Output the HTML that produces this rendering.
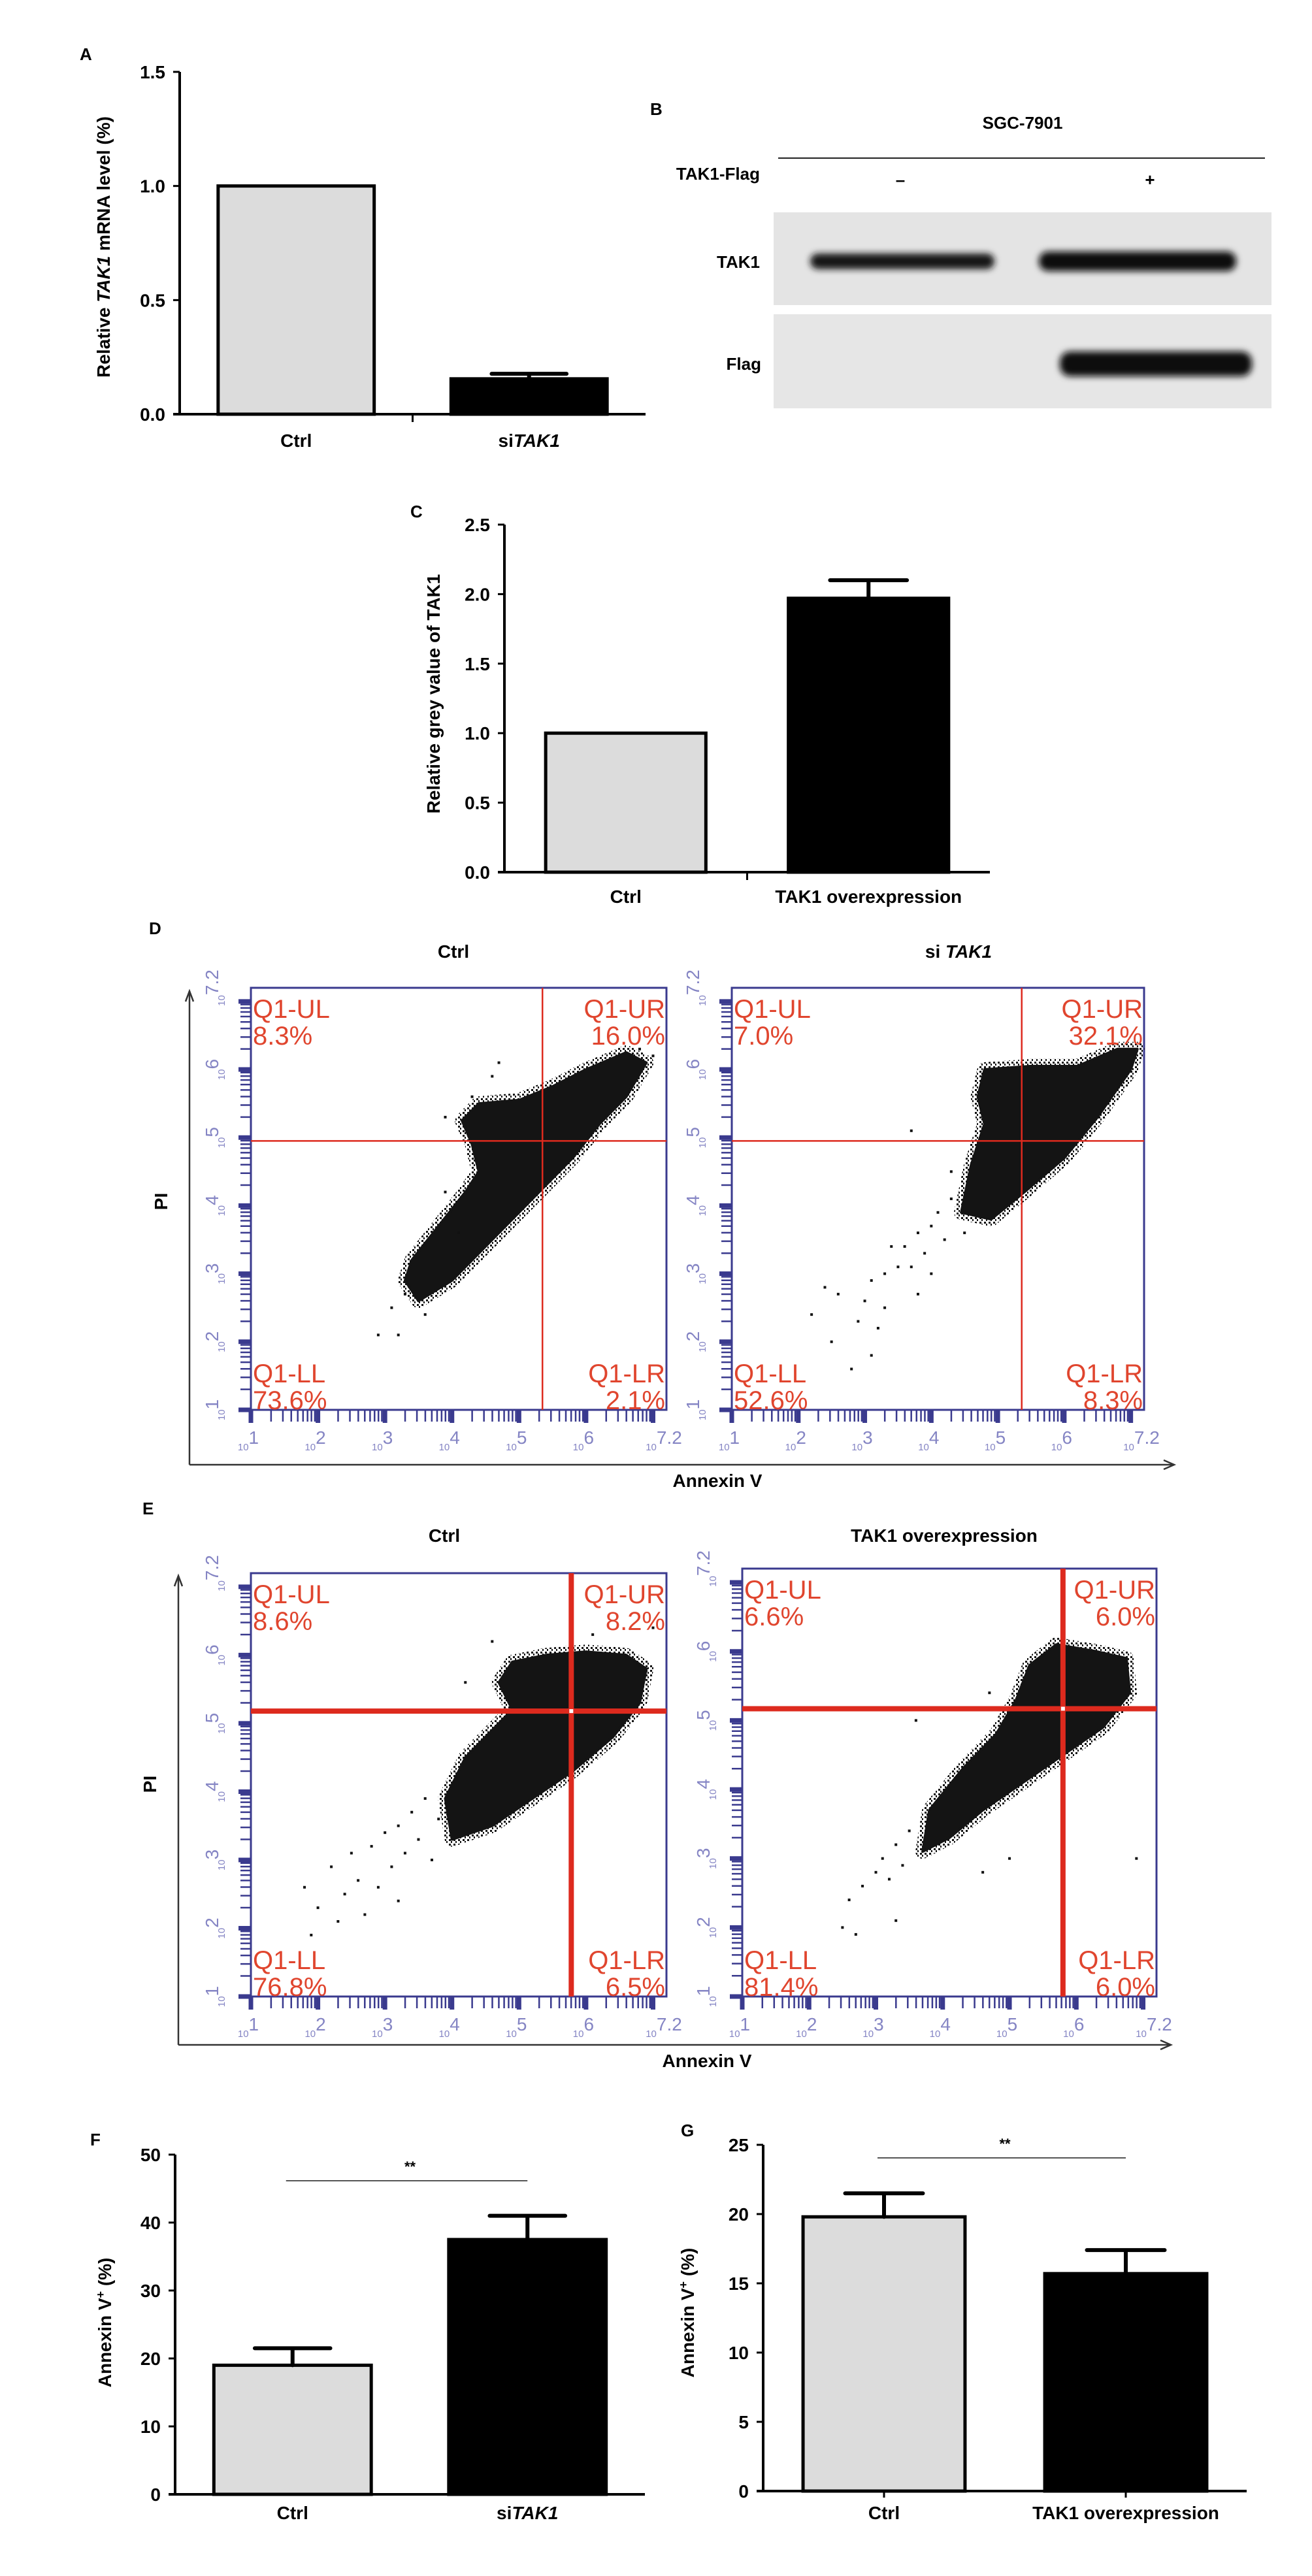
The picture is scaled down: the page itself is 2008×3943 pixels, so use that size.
<!DOCTYPE html>
<html><head><meta charset="utf-8"><style>
html,body{margin:0;padding:0;background:#fff}
svg{display:block}
text{font-family:"Liberation Sans",sans-serif}
.b{font-weight:bold}
</style></head><body>
<svg id="fig" xmlns="http://www.w3.org/2000/svg" width="2008" height="3943" viewBox="0 0 2008 3943">
<defs>
<filter id="blur" x="-20%" y="-50%" width="140%" height="200%"><feGaussianBlur stdDeviation="5"/></filter>
<pattern id="dots" width="7" height="7" patternUnits="userSpaceOnUse"><rect x="1" y="1" width="3" height="3" fill="#111"/><rect x="4" y="4" width="2" height="3" fill="#111"/></pattern>
</defs>
<g id="panelB">
<text x="995" y="176" class="b" font-size="26">B</text>
<text x="1565" y="197" class="b" font-size="26" text-anchor="middle">SGC-7901</text>
<line x1="1191" y1="242" x2="1936" y2="242" stroke="#222" stroke-width="2"/>
<text x="1163" y="275" class="b" font-size="26" text-anchor="end">TAK1-Flag</text>
<text x="1378" y="284" class="b" font-size="26" text-anchor="middle">–</text>
<text x="1760" y="284" class="b" font-size="26" text-anchor="middle">+</text>
<rect x="1184" y="325" width="762" height="142" fill="#e4e4e4"/>
<rect x="1184" y="481" width="762" height="144" fill="#e6e6e6"/>
<text x="1163" y="410" class="b" font-size="26" text-anchor="end">TAK1</text>
<text x="1165" y="566" class="b" font-size="26" text-anchor="end">Flag</text>
<rect x="1240" y="388" width="282" height="24" rx="12" fill="#151515" filter="url(#blur)"/>
<rect x="1590" y="385" width="302" height="30" rx="14" fill="#0a0a0a" filter="url(#blur)"/>
<rect x="1622" y="538" width="294" height="38" rx="16" fill="#0a0a0a" filter="url(#blur)"/>
</g>
</svg>
<script>
// ---------- bar chart data ----------
const aCats = ["Ctrl", "siTAK1"];
const aVals = [1.0, 0.155];
const aErr = [0.0, 0.177];
const aTicks = [0, 0.5, 1.0, 1.5];
const aTickLabels = ["0.0", "0.5", "1.0", "1.5"];

const cCats = ["Ctrl", "TAK1 overexpression"];
const cVals = [1.0, 1.97];
const cErr = [1.0, 2.1];
const cTicks = [0, 0.5, 1.0, 1.5, 2.0, 2.5];
const cTickLabels = ["0.0", "0.5", "1.0", "1.5", "2.0", "2.5"];

const fCats = ["Ctrl", "siTAK1"];
const fVals = [19, 37.5];
const fErr = [21.5, 41];
const fTicks = [0, 10, 20, 30, 40, 50];
const fTickLabels = ["0", "10", "20", "30", "40", "50"];

const gCats = ["Ctrl", "TAK1 overexpression"];
const gVals = [19.8, 15.7];
const gErr = [21.5, 17.4];
const gTicks = [0, 5, 10, 15, 20, 25];
const gTickLabels = ["0", "5", "10", "15", "20", "25"];

// ---------- flow cytometry data (log10 units) ----------
const dCtrlQuad = ["8.3%", "16.0%", "73.6%", "2.1%"];
const dSiQuad = ["7.0%", "32.1%", "52.6%", "8.3%"];
const eCtrlQuad = ["8.6%", "8.2%", "76.8%", "6.5%"];
const eOvQuad = ["6.6%", "6.0%", "81.4%", "6.0%"];
const dCtrlGate = [5.35, 4.95];
const dSiGate = [5.36, 4.95];
const eCtrlGate = [5.78, 5.18];
const eOvGate = [5.8, 5.17];
const dCtrlBlob = [[3.3,2.9],[3.5,2.6],[4.0,2.9],[4.6,3.5],[5.2,4.1],[5.8,4.7],[6.2,5.2],[6.6,5.6],[6.9,6.1],[6.6,6.25],[6.0,6.0],[5.5,5.75],[5.0,5.55],[4.4,5.5],[4.15,5.25],[4.3,4.9],[4.4,4.5],[4.2,4.2],[3.8,3.7],[3.4,3.2]];
const dCtrlOut = [[2.9,2.1],[3.2,2.1],[3.1,2.5],[3.3,2.7],[4.6,5.9],[4.3,5.6],[3.9,4.2],[4.1,3.6],[6.8,6.3],[7.0,6.2],[3.6,2.4],[4.7,6.1],[3.9,5.3]];
const dSiBlob = [[4.45,3.9],[4.9,3.8],[5.4,4.2],[6.0,4.7],[6.5,5.3],[7.0,6.0],[7.1,6.3],[6.8,6.3],[6.2,6.05],[5.5,6.05],[4.8,6.0],[4.7,5.6],[4.8,5.2],[4.6,4.6]];
const dSiOut = [[2.2,2.4],[2.5,2.0],[2.4,2.8],[2.6,2.7],[2.9,2.3],[3.0,2.6],[3.1,2.9],[3.2,2.2],[3.3,2.5],[3.3,3.0],[3.5,3.1],[3.6,3.4],[3.4,3.4],[3.7,3.1],[3.8,3.6],[3.9,3.3],[4.0,3.7],[4.1,3.9],[4.2,3.5],[4.3,4.1],[2.8,1.6],[3.1,1.8],[3.8,2.7],[4.0,3.0],[3.7,5.1],[4.3,4.5],[4.5,3.6]];
const eCtrlBlob = [[4.0,3.3],[4.6,3.5],[5.2,3.9],[5.8,4.3],[6.4,4.8],[6.8,5.3],[6.9,5.8],[6.6,6.0],[6.0,6.05],[5.4,6.0],[4.9,5.9],[4.7,5.6],[4.9,5.2],[4.6,4.9],[4.2,4.5],[3.9,3.9]];
const eCtrlOut = [[1.8,2.6],[2.0,2.3],[2.2,2.9],[2.4,2.5],[2.5,3.1],[2.6,2.7],[2.8,3.2],[2.9,2.6],[3.0,3.4],[3.1,2.9],[3.2,3.5],[3.3,3.1],[3.4,3.7],[3.5,3.3],[3.6,3.9],[3.7,3.0],[3.8,3.6],[2.3,2.1],[2.7,2.2],[3.2,2.4],[4.2,5.6],[4.6,6.2],[7.0,6.4],[6.1,6.3],[1.9,1.9]];
const eOvBlob = [[3.7,3.1],[4.1,3.3],[4.6,3.7],[5.2,4.1],[5.8,4.5],[6.4,4.9],[6.8,5.4],[6.75,5.9],[6.3,6.0],[5.7,6.1],[5.3,5.8],[5.1,5.3],[4.8,4.8],[4.3,4.3],[3.8,3.7]];
const eOvOut = [[2.6,2.4],[2.8,2.6],[3.0,2.8],[3.1,3.0],[3.2,2.7],[3.3,3.2],[3.4,2.9],[3.5,3.4],[2.5,2.0],[2.7,1.9],[3.3,2.1],[4.6,2.8],[5.0,3.0],[6.9,3.0],[3.6,5.0],[4.7,5.4]];

const NS = "http://www.w3.org/2000/svg";
const svg = document.getElementById("fig");
function mk(tag, attrs, parent) {
  const e = document.createElementNS(NS, tag);
  for (const k in attrs) e.setAttribute(k, attrs[k]);
  (parent || svg).appendChild(e);
  return e;
}
function txt(str, attrs, parent) { const t = mk("text", attrs, parent); t.textContent = str; return t; }

function barChart(cfg, cats, vals, errs, ticks, tickLabels) {
  const g = mk("g", {});
  
  
  const y = v => cfg.y0 - (v / cfg.max) * (cfg.y0 - cfg.yTop);
  const band = (cfg.xEnd - cfg.axisX) / cats.length;
  const cx = i => cfg.axisX + band * (i + 0.5);
  const bw = band * cfg.barFrac;
  // y axis
  const ya = mk("line", {x1: cfg.axisX, y1: cfg.yTop, x2: cfg.axisX, y2: cfg.y0, stroke: "#000", "stroke-width": 4}, g);
  
  
  ticks.forEach((t, i) => {
    const tl = mk("line", {x1: cfg.axisX - 10, y1: y(t), x2: cfg.axisX, y2: y(t), stroke: "#000", "stroke-width": 3}, g);
    
    
    const lb = txt(tickLabels[i], {x: cfg.axisX - 22, y: y(t) + 10, "font-size": 28, "text-anchor": "end", "class": "b"}, g);
    
    
  });
  cats.forEach((c, i) => {
    const x = cx(i);
    const top = y(vals[i]);
    const r = mk("rect", {x: x - bw / 2, y: top, width: bw, height: cfg.y0 - top, fill: i === 0 ? "#dcdcdc" : "#000", stroke: "#000", "stroke-width": 5}, g);
    
    
    if (errs[i] > vals[i]) {
      const ey = y(errs[i]);
      const el = mk("path", {d: `M${x},${top} V${ey} M${x - bw * 0.24},${ey} H${x + bw * 0.24}`, stroke: "#000", "stroke-width": 6, fill: "none", "stroke-linecap": "round"}, g);
      
      
    }
    if (cfg.centerTicks) {
      const ct = mk("line", {x1: x, y1: cfg.y0, x2: x, y2: cfg.y0 + 10, stroke: "#000", "stroke-width": 3}, g);
      
      
    }
    const lab = txt("", {x: x, y: cfg.labelY, "font-size": 28, "text-anchor": "middle", "class": "b"}, g);
    
    
    if (c.startsWith("si")) {
      lab.appendChild(document.createTextNode("si"));
      const ts = mk("tspan", {"font-style": "italic"}, lab); ts.textContent = c.slice(2);
    } else lab.textContent = c;
  });
  const xa = mk("line", {x1: cfg.axisX - 10, y1: cfg.y0, x2: cfg.xEnd, y2: cfg.y0, stroke: "#000", "stroke-width": 4}, g);
  
  
  if (cfg.midTick) {
    const mt = mk("line", {x1: (cfg.axisX + cfg.xEnd) / 2, y1: cfg.y0, x2: (cfg.axisX + cfg.xEnd) / 2, y2: cfg.y0 + 12, stroke: "#000", "stroke-width": 3}, g);
    
    
  }
  if (cfg.sig) {
    const sl = mk("line", {x1: cx(0) - 10, y1: cfg.sigY, x2: cx(1), y2: cfg.sigY, stroke: "#555", "stroke-width": 2}, g);
    
    
    const st = txt("**", {x: (cx(0) + cx(1)) / 2, y: cfg.sigY - 14, "font-size": 22, "text-anchor": "middle", "class": "b"}, g);
    
    
  }
  const yt = txt("", {x: 0, y: 0, "font-size": cfg.titleSize || 28, "text-anchor": "middle", "class": "b", transform: `translate(${cfg.titleX},${cfg.titleY}) rotate(-90)`}, g);
  
  
  cfg.title.forEach(p => { const ts = mk("tspan", p.a || {}, yt); ts.textContent = p.t; });
  const pl = txt(cfg.letter, {x: cfg.letterX, y: cfg.letterY, "font-size": 26, "class": "b"}, g);
  
  
}

barChart({name: "panel-a-mrna-chart", axisX: 275, xEnd: 988, y0: 634, yTop: 110, max: 1.5, barFrac: 0.67, labelY: 684, midTick: true,
  titleX: 168, titleY: 378, title: [{t: "Relative "}, {t: "TAK1", a: {"font-style": "italic"}}, {t: " mRNA level (%)"}],
  letter: "A", letterX: 122, letterY: 92}, aCats, aVals, aErr, aTicks, aTickLabels);
barChart({name: "panel-c-grey-value-chart", axisX: 772, xEnd: 1515, y0: 1335, yTop: 803, max: 2.5, barFrac: 0.66, labelY: 1382, midTick: true,
  titleX: 673, titleY: 1062, title: [{t: "Relative grey value of TAK1"}],
  letter: "C", letterX: 628, letterY: 792}, cCats, cVals, cErr, cTicks, cTickLabels);
barChart({name: "panel-f-annexin-chart", axisX: 268, xEnd: 987, y0: 3818, yTop: 3298, max: 50, barFrac: 0.67, labelY: 3856, sig: true, sigY: 3338,
  titleX: 170, titleY: 3555, title: [{t: "Annexin V"}, {t: "+", a: {"baseline-shift": "super", "font-size": 18}}, {t: " (%)"}],
  letter: "F", letterX: 138, letterY: 3284}, fCats, fVals, fErr, fTicks, fTickLabels);
barChart({name: "panel-g-annexin-chart", axisX: 1168, xEnd: 1908, y0: 3813, yTop: 3283, max: 25, barFrac: 0.67, labelY: 3856, sig: true, sigY: 3303, centerTicks: true,
  titleX: 1062, titleY: 3540, title: [{t: "Annexin  V"}, {t: "+", a: {"baseline-shift": "super", "font-size": 18}}, {t: " (%)"}],
  letter: "G", letterX: 1042, letterY: 3270}, gCats, gVals, gErr, gTicks, gTickLabels);

// ---------- flow plots ----------
function flowPlot(cfg, quad, gate, blob, outliers) {
  const g = mk("g", {});
  
  
  const L = 1, H = 7.2;
  const sx = v => cfg.x0 + (v - L) / (H - L) * (cfg.x1 - cfg.x0);
  const sy = v => cfg.y1 - (v - L) / (H - L) * (cfg.y1 - cfg.y0);
  const navy = "#3a3a8e", lab = "#8585c4";
  // ticks
  let d = "", dm = "";
  for (let dec = 1; dec <= 7; dec++) {
    for (let k = 1; k <= 9; k++) {
      const v = dec + Math.log10(k);
      if (v > H) break;
      if (k === 1) { dm += `M${cfg.x0 - 19},${sy(v)}H${cfg.x0}M${sx(v)},${cfg.y1}V${cfg.y1 + 20}`; }
      else { d += `M${cfg.x0 - 16},${sy(v)}H${cfg.x0}M${sx(v)},${cfg.y1}V${cfg.y1 + 18}`; }
    }
  }
  const mt = mk("path", {d: d, stroke: navy, "stroke-width": 2.5, fill: "none"}, g);
  
  
  const Mt = mk("path", {d: dm, stroke: navy, "stroke-width": 7, fill: "none"}, g);
  
  
  const box = mk("rect", {x: cfg.x0, y: cfg.y0, width: cfg.x1 - cfg.x0, height: cfg.y1 - cfg.y0, fill: "none", stroke: navy, "stroke-width": 3}, g);
  
  
  const exps = ["1", "2", "3", "4", "5", "6", "7.2"];
  const vals = [1, 2, 3, 4, 5, 6, 7.2];
  vals.forEach((v, i) => {
    const tx = txt("", {x: sx(v) - 4, y: cfg.y1 + 62, "font-size": 15, fill: lab, "text-anchor": "middle"}, g);
    
    
    tx.appendChild(document.createTextNode("10"));
    const sp = mk("tspan", {"font-size": 28, dy: -10}, tx); sp.textContent = exps[i];
    const ty = txt("", {x: 0, y: 0, "font-size": 15, fill: lab, "text-anchor": "middle", transform: `translate(${cfg.x0 - 40},${sy(v)}) rotate(-90)`}, g);
    
    
    ty.appendChild(document.createTextNode("10"));
    const sp2 = mk("tspan", {"font-size": 28, dy: -10}, ty); sp2.textContent = exps[i];
  });
  // blob
  const pts = blob.map(p => `${sx(p[0])},${sy(p[1])}`).join(" ");
  const halo = mk("polygon", {points: pts, fill: "url(#dots)", stroke: "url(#dots)", "stroke-width": 22, "stroke-linejoin": "round"}, g);
  
  
  const core = mk("polygon", {points: pts, fill: "#141414", stroke: "#141414", "stroke-width": 4, "stroke-linejoin": "round"}, g);
  
  
  outliers.forEach(p => {
    const r = mk("rect", {x: sx(p[0]) - 2, y: sy(p[1]) - 2, width: 4, height: 4, fill: "#111"}, g);
    
    
  });
  // gates
  const gx = sx(gate[0]), gy = sy(gate[1]);
  const gl = mk("path", {d: `M${cfg.x0},${gy}H${cfg.x1}M${gx},${cfg.y0}V${cfg.y1}`, stroke: "#dd2a1e", "stroke-width": cfg.gateW, fill: "none"}, g);
  
  
  if (cfg.gateW > 4) {
    const c = mk("rect", {x: gx - 3, y: gy - 3, width: 6, height: 6, fill: "#fff"}, g);
    
    
  }
  // quadrant labels
  const red = "#e0452e";
  const qn = ["Q1-UL", "Q1-UR", "Q1-LL", "Q1-LR"];
  qn.forEach((q, i) => {
    const right = i % 2 === 1, bottom = i >= 2;
    const x = right ? cfg.x1 - 2 : cfg.x0 + 3;
    const yb1 = bottom ? cfg.y1 - 42 : cfg.y0 + 46;
    const t1 = txt(q, {x: x, y: yb1, "font-size": 40, fill: red, "text-anchor": right ? "end" : "start"}, g);
    
    
    const t2 = txt(quad[i], {x: x, y: yb1 + 41, "font-size": 40, fill: red, "text-anchor": right ? "end" : "start"}, g);
    
    
  });
  const tt = txt("", {x: cfg.titleX, y: cfg.titleY, "font-size": 28, "class": "b", "text-anchor": "middle"}, g);
  
  
  if (cfg.title.startsWith("si")) {
    tt.appendChild(document.createTextNode("si "));
    const ts = mk("tspan", {"font-style": "italic"}, tt); ts.textContent = cfg.title.slice(2);
  } else tt.textContent = cfg.title;
}
flowPlot({name: "panel-d-ctrl-flow", x0: 384, x1: 1020, y0: 1512, y1: 2158, gateW: 2.5, title: "Ctrl", titleX: 694, titleY: 1466}, dCtrlQuad, dCtrlGate, dCtrlBlob, dCtrlOut);
flowPlot({name: "panel-d-sitak1-flow", x0: 1120, x1: 1751, y0: 1512, y1: 2158, gateW: 2.5, title: "siTAK1", titleX: 1467, titleY: 1466}, dSiQuad, dSiGate, dSiBlob, dSiOut);
flowPlot({name: "panel-e-ctrl-flow", x0: 384, x1: 1020, y0: 2408, y1: 3056, gateW: 8, title: "Ctrl", titleX: 680, titleY: 2360}, eCtrlQuad, eCtrlGate, eCtrlBlob, eCtrlOut);
flowPlot({name: "panel-e-overexpression-flow", x0: 1136, x1: 1770, y0: 2401, y1: 3056, gateW: 8, title: "TAK1 overexpression", titleX: 1445, titleY: 2360}, eOvQuad, eOvGate, eOvBlob, eOvOut);

// shared axes for D and E
function bigAxes(name, ax, ay, top, right, letter, lx, ly, piY, annX) {
  const g = mk("g", {});
  
  
  const p = mk("path", {d: `M${ax},${ay}V${top}M${ax},${ay}H${right}`, stroke: "#333", "stroke-width": 2.5, fill: "none"}, g);
  
  
  const h = mk("path", {d: `M${ax - 6},${top + 16}L${ax},${top}L${ax + 6},${top + 16}M${right - 16},${ay - 7}L${right},${ay}L${right - 16},${ay + 7}`, stroke: "#333", "stroke-width": 2.5, fill: "none"}, g);
  
  
  const pi = txt("PI", {x: 0, y: 0, "font-size": 28, "class": "b", "text-anchor": "middle", transform: `translate(${ax - 34},${piY}) rotate(-90)`}, g);
  
  
  const an = txt("Annexin V", {x: annX, y: ay + 34, "font-size": 28, "class": "b", "text-anchor": "middle"}, g);
  
  
  const l = txt(letter, {x: lx, y: ly, "font-size": 26, "class": "b"}, g);
  
  
}
bigAxes("panel-d-axes", 290, 2242, 1517, 1797, "D", 228, 1430, 1839, 1098);
bigAxes("panel-e-axes", 273, 3130, 2412, 1792, "E", 218, 2318, 2731, 1082);
</script>
</body></html>
